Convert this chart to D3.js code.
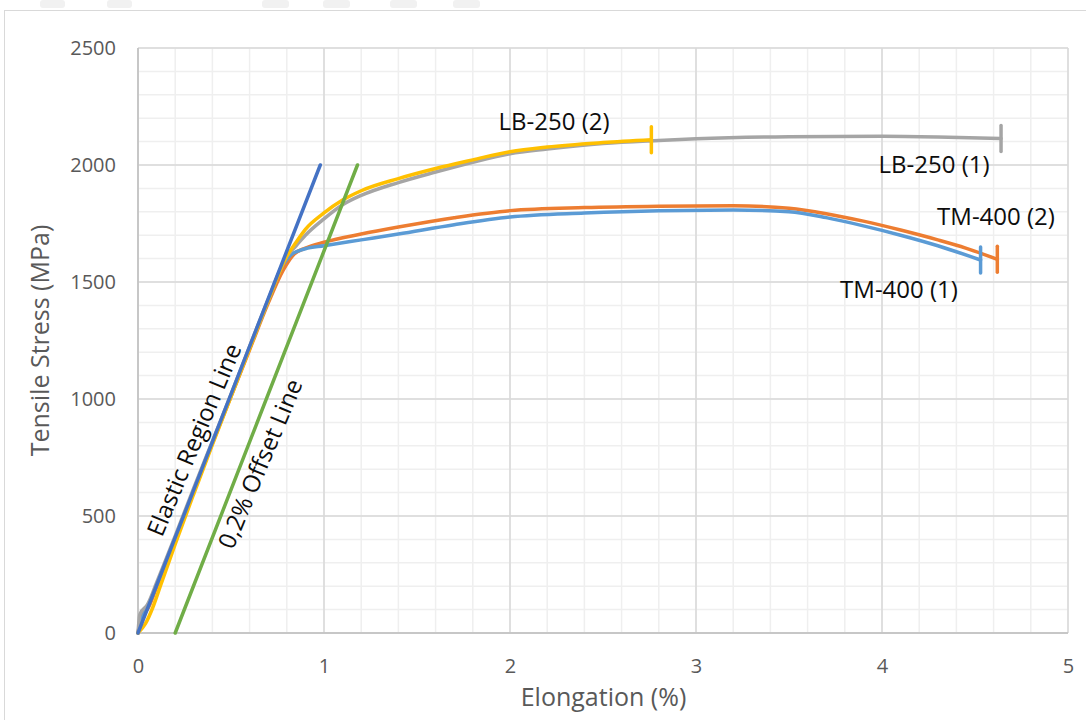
<!DOCTYPE html>
<html>
<head>
<meta charset="utf-8">
<script src="https://cdn.jsdelivr.net/npm/d3@7"></script>
<style>
html,body{margin:0;padding:0;background:#fff;}
svg{display:block;font-family:"Open Sans",sans-serif;}
</style>
</head>
<body>
<svg id="chart" width="1086" height="720"></svg>
<script>
// ---- data ----
const xTicks = [0, 1, 2, 3, 4, 5];
const yTicks = [0, 500, 1000, 1500, 2000, 2500];

const tm400_1_x = [0, 0.02, 0.05, 0.1, 0.2, 0.3, 0.4, 0.5, 0.6, 0.7, 0.78, 0.82, 0.86, 0.9, 1.0, 1.2, 1.4, 1.7, 2.0, 2.4, 2.8, 3.2, 3.5, 3.7, 3.9, 4.1, 4.3, 4.53];
const tm400_1_y = [0, 60, 110, 205, 405, 610, 815, 1015, 1220, 1420, 1575, 1615, 1632, 1642, 1655, 1680, 1705, 1745, 1778, 1795, 1805, 1808, 1800, 1775, 1740, 1700, 1655, 1594];

const tm400_2_x = [0, 0.02, 0.05, 0.1, 0.2, 0.3, 0.4, 0.5, 0.6, 0.7, 0.78, 0.84, 0.9, 1.0, 1.2, 1.4, 1.7, 2.0, 2.4, 2.8, 3.2, 3.5, 3.7, 3.9, 4.1, 4.3, 4.45, 4.62];
const tm400_2_y = [0, 80, 100, 195, 400, 605, 810, 1010, 1210, 1410, 1550, 1620, 1645, 1670, 1705, 1735, 1775, 1805, 1818, 1824, 1826, 1815, 1792, 1760, 1722, 1680, 1645, 1597];

const lb250_1_x = [0, 0.01, 0.05, 0.1, 0.2, 0.3, 0.4, 0.5, 0.6, 0.7, 0.8, 0.85, 0.9, 1.0, 1.1, 1.2, 1.4, 1.6, 1.8, 2.0, 2.2, 2.5, 2.8, 3.0, 3.5, 4.0, 4.3, 4.64];
const lb250_1_y = [0, 80, 120, 215, 415, 620, 820, 1020, 1225, 1425, 1610, 1655, 1700, 1770, 1830, 1870, 1925, 1970, 2012, 2048, 2068, 2092, 2105, 2112, 2121, 2123, 2120, 2113];

const lb250_2_x = [0, 0.04, 0.08, 0.12, 0.2, 0.3, 0.4, 0.5, 0.6, 0.7, 0.8, 0.85, 0.9, 1.0, 1.1, 1.2, 1.4, 1.6, 1.8, 2.0, 2.2, 2.5, 2.76];
const lb250_2_y = [0, 40, 110, 200, 380, 595, 805, 1010, 1215, 1420, 1610, 1670, 1725, 1795, 1850, 1890, 1942, 1985, 2022, 2057, 2077, 2096, 2108];

const elastic_x = [0, 0.98];
const elastic_y = [0, 2000];
const offset_x = [0.2, 1.18];
const offset_y = [0, 2000];

const seriesNames = ["TM-400 (2)", "TM-400 (1)", "LB-250 (1)", "LB-250 (2)"];
const seriesColors = ["#ED7D31", "#5B9BD5", "#A5A5A5", "#FFC000"];

// ---- layout ----
const svg = d3.select("#chart");
const L = 138, R = 1068, T = 48, B = 633;
const x = d3.scaleLinear().domain([0, 5]).range([L, R]);
const y = d3.scaleLinear().domain([0, 2500]).range([B, T]);

// chart frame
svg.append("rect").attr("x", 4.5).attr("y", 10.5).attr("width", 1100).attr("height", 720)
  .attr("fill", "#fff").attr("stroke", "#d9d9d9").attr("stroke-width", 1);

// faint blobs above frame (cropped elements)
[[40, 25], [107, 25], [262, 27], [323, 27], [390, 27], [453, 27]].forEach(([bx, bw]) => {
  svg.append("rect").attr("x", bx).attr("y", 0).attr("width", bw).attr("height", 8)
    .attr("rx", 3).attr("fill", "#f1f1f1");
});

// minor grid
const g = svg.append("g");
d3.range(0, 5.0001, 0.2).forEach(v => {
  g.append("line").attr("x1", x(v)).attr("x2", x(v)).attr("y1", T).attr("y2", B)
    .attr("stroke", "#efefef").attr("stroke-width", 1.5);
});
d3.range(0, 2500.01, 100).forEach(v => {
  g.append("line").attr("x1", L).attr("x2", R).attr("y1", y(v)).attr("y2", y(v))
    .attr("stroke", "#efefef").attr("stroke-width", 1.5);
});
// major grid
xTicks.forEach(v => {
  g.append("line").attr("x1", x(v)).attr("x2", x(v)).attr("y1", T).attr("y2", B)
    .attr("stroke", "#d9d9d9").attr("stroke-width", 1.5);
});
yTicks.forEach(v => {
  g.append("line").attr("x1", L).attr("x2", R).attr("y1", y(v)).attr("y2", y(v))
    .attr("stroke", "#d9d9d9").attr("stroke-width", 1.5);
});
// axis lines
g.append("line").attr("x1", L).attr("x2", R).attr("y1", B).attr("y2", B).attr("stroke", "#bfbfbf").attr("stroke-width", 1.5);
g.append("line").attr("x1", L).attr("x2", L).attr("y1", T).attr("y2", B).attr("stroke", "#bfbfbf").attr("stroke-width", 1.5);

// axes labels via d3 axes
const xAxis = svg.append("g").attr("transform", `translate(0,${B})`)
  .call(d3.axisBottom(x).tickValues(xTicks).tickSize(0).tickPadding(26).tickFormat(d3.format("d")));
const yAxis = svg.append("g").attr("transform", `translate(${L},0)`)
  .call(d3.axisLeft(y).tickValues(yTicks).tickSize(0).tickPadding(22).tickFormat(d3.format("d")));
[xAxis, yAxis].forEach(a => {
  a.select(".domain").remove();
  a.selectAll("text").attr("font-family", "Open Sans").attr("font-size", 20).attr("fill", "#595959");
});

// axis titles
svg.append("text").attr("x", (L + R) / 2 + 0.5).attr("y", 706).attr("text-anchor", "middle")
  .attr("font-size", 25).attr("fill", "#595959").text("Elongation (%)");
svg.append("text").attr("transform", `translate(49,${(T + B) / 2}) rotate(-90)`).attr("text-anchor", "middle")
  .attr("font-size", 25).attr("fill", "#595959").text("Tensile Stress (MPa)");

// series
const xsArr = [tm400_2_x, tm400_1_x, lb250_1_x, lb250_2_x];
const ysArr = [tm400_2_y, tm400_1_y, lb250_1_y, lb250_2_y];
const line = d3.line().x(d => x(d[0])).y(d => y(d[1])).curve(d3.curveMonotoneX);
xsArr.forEach((xs, i) => {
  const pts = xs.map((v, j) => [v, ysArr[i][j]]);
  svg.append("path").datum(pts).attr("d", line).attr("fill", "none")
    .attr("stroke", seriesColors[i]).attr("stroke-width", 3.5)
    .attr("stroke-linejoin", "round").attr("stroke-linecap", "round");
  const last = pts[pts.length - 1];
  svg.append("line").attr("x1", x(last[0])).attr("x2", x(last[0]))
    .attr("y1", y(last[1]) - 13).attr("y2", y(last[1]) + 13)
    .attr("stroke", seriesColors[i]).attr("stroke-width", 3.5).attr("stroke-linecap", "round");
});

// elastic + offset lines
const straight = d3.line().x(d => x(d[0])).y(d => y(d[1]));
svg.append("path").datum(elastic_x.map((v, j) => [v, elastic_y[j]])).attr("d", straight)
  .attr("fill", "none").attr("stroke", "#4472C4").attr("stroke-width", 3.5).attr("stroke-linecap", "round");
svg.append("path").datum(offset_x.map((v, j) => [v, offset_y[j]])).attr("d", straight)
  .attr("fill", "none").attr("stroke", "#70AD47").attr("stroke-width", 3.5).attr("stroke-linecap", "round");

// annotations
const ang = -Math.atan2(y(0) - y(2000), x(0.98) - x(0)) * 180 / Math.PI;
svg.append("text").attr("transform", `translate(202,443) rotate(${ang + 1.5})`).attr("text-anchor", "middle")
  .attr("font-size", 24).attr("fill", "#0d0d0d").text("Elastic Region Line");
svg.append("text").attr("transform", `translate(268,467) rotate(${ang + 1.5})`).attr("text-anchor", "middle")
  .attr("font-size", 24).attr("fill", "#0d0d0d").text("0,2% Offset Line");

// series labels
const labelPos = [[996, 225], [899, 298], [934, 173], [554, 130]];
seriesNames.forEach((n, i) => {
  svg.append("text").attr("x", labelPos[i][0]).attr("y", labelPos[i][1]).attr("text-anchor", "middle")
    .attr("font-size", 24).attr("fill", "#0d0d0d").text(n);
});
</script>
</body>
</html>
